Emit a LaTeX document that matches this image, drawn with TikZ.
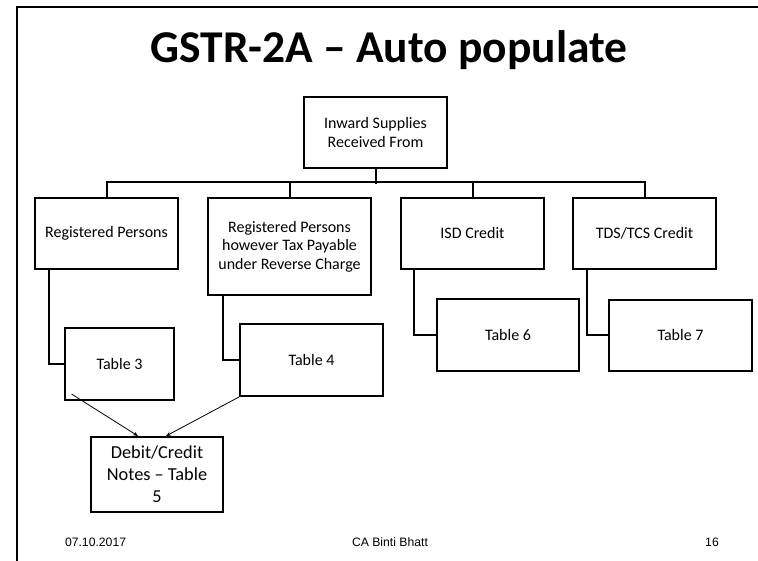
\documentclass[tikz,border=0pt]{standalone}
\usepackage{fontspec}
\setmainfont{Carlito}
\newfontfamily\footfont{Liberation Sans}
\usetikzlibrary{calc,arrows.meta}
\begin{document}
\begin{tikzpicture}[x=1pt,y=-1pt,
  box/.style={draw,line width=2pt,align=center,inner sep=2pt,
    font=\fontsize{16}{18.5}\selectfont},
  link/.style={line width=2pt},
  feed/.style={line width=0.8pt,-{Stealth[length=5pt,width=4pt]}},
  foot/.style={font=\footfont\fontsize{12.2}{14}\selectfont,anchor=base}]
\useasboundingbox (0,0) rectangle (758,561);
% slide frame
\draw[line width=2pt] (17,561) -- (17,7) -- (758,7);
% title
\node[anchor=base,font=\bfseries\fontsize{45.5}{50}\selectfont] (title) at (389,63) {GSTR-2A -- Auto populate};
% top level
\node[box,minimum width=143,minimum height=71] (inward) at (375.5,132.5) {Inward Supplies\\Received From};
% sources
\node[box,minimum width=143,minimum height=71] (rp) at (106.5,233.5) {Registered Persons};
\node[box,minimum width=163,minimum height=97] (rcm) at (289.5,246.5) {Registered Persons\\however Tax Payable\\under Reverse Charge};
\node[box,minimum width=143,minimum height=71] (isd) at (472.5,233.5) {ISD Credit};
\node[box,minimum width=143,minimum height=71] (tds) at (644.5,233.5) {TDS/TCS Credit};
% tables
\node[box,minimum width=109,minimum height=72] (t3) at (119.5,364) {Table 3};
\node[box,minimum width=143,minimum height=72] (t4) at (311.5,360) {Table 4};
\node[box,minimum width=142,minimum height=72] (t6) at (508,335) {Table 6};
\node[box,minimum width=143,minimum height=71] (t7) at (680.5,335.5) {Table 7};
\node[box,minimum width=132,minimum height=75,font=\fontsize{18.3}{22}\selectfont] (dcn) at (157,474.5) {Debit/Credit\\Notes -- Table\\5};
% tree connectors
\draw[link] (inward.south) -- ++(0,15);
\draw[link] (rp.north) -- ++(0,-15) -| (tds.north);
\draw[link] (rcm.north) -- ++(0,-15);
\draw[link] (isd.north) -- ++(0,-15);
\draw[link] ($(rp.south west)+(15,0)$) |- (t3.west);
\draw[link] ($(rcm.south west)+(16,0)$) |- (t4.west);
\draw[link] ($(isd.south west)+(14,0)$) |- (t6.west);
\draw[link] ($(tds.south west)+(15,0)$) |- (t7.west);
% arrows into the debit/credit notes box
\draw[feed] ($(t3.south west)+(7.5,-7)$) -- ($(dcn.north west)+(48,0)$);
\draw[feed] (t4.south west) -- ($(dcn.north west)+(76,0)$);
% footer
\node[foot,anchor=base west] (date) at (61.5,546.5) {07.10.2017};
\node[foot] (author) at (390,546.5) {CA Binti Bhatt};
\node[foot] (page) at (712,546.5) {16};
\end{tikzpicture}
\end{document}
